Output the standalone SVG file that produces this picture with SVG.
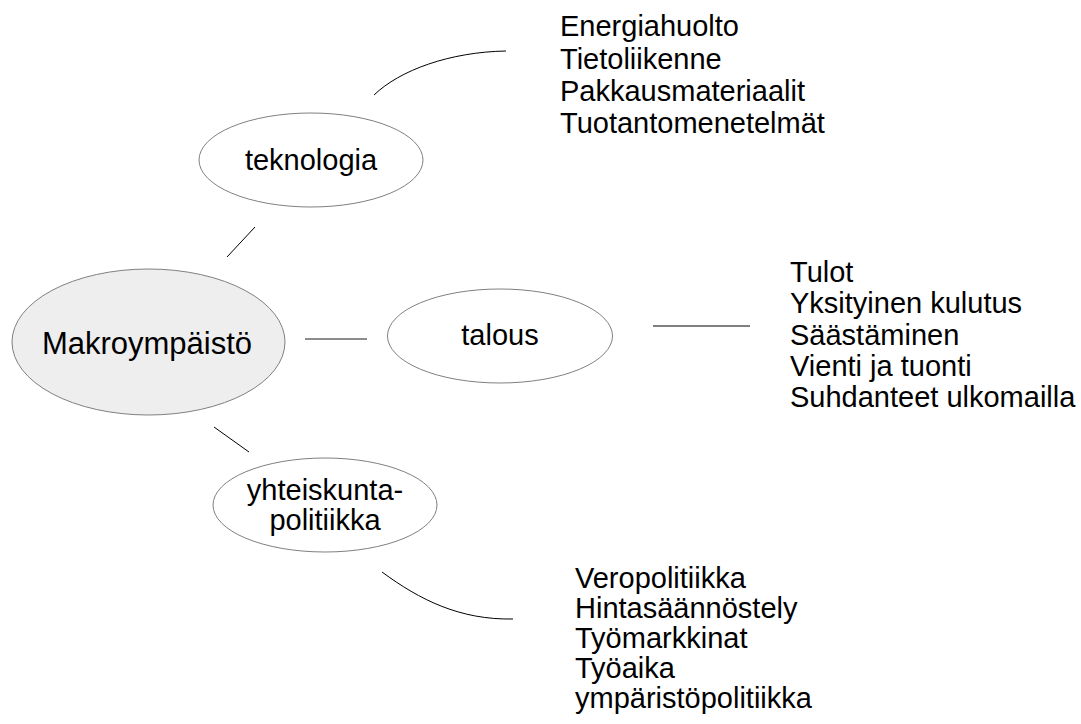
<svg xmlns="http://www.w3.org/2000/svg" width="1081" height="724" viewBox="0 0 1081 724">
<style>
.node{fill:#ffffff;stroke:#808080;stroke-width:1}
.main{fill:#eeeeee;stroke:#808080;stroke-width:1}
text{font-family:"Liberation Sans",Arial,sans-serif;font-size:29px;fill:#000000}
.c{text-anchor:middle}
.conn{fill:none;stroke:#000000;stroke-width:1}
.gray{stroke:#666666;stroke-width:1.5}
</style>
<rect width="1081" height="724" fill="#ffffff"/>
<g id="connectors">
<path class="conn" d="M374,95 C400,70 450,52 506,51"/>
<line class="conn" x1="255" y1="227" x2="227" y2="257"/>
<line class="conn gray" x1="305" y1="339" x2="367" y2="339"/>
<line class="conn" x1="653" y1="326" x2="750" y2="326"/>
<line class="conn" x1="214" y1="427" x2="249" y2="452"/>
<path class="conn" d="M382,572 C420,600 460,620 513,619"/>
</g>
<g id="makro">
<ellipse class="main" cx="148.5" cy="342" rx="136.5" ry="73"/>
<text class="c" x="147" y="354" style="font-size:31px">Makroympäistö</text>
</g>
<g id="teknologia">
<ellipse class="node" cx="311" cy="160" rx="112" ry="47"/>
<text class="c" x="311" y="170">teknologia</text>
</g>
<g id="talous">
<ellipse class="node" cx="500" cy="336" rx="112.5" ry="47"/>
<text class="c" x="500" y="345">talous</text>
</g>
<g id="yhteiskuntapolitiikka">
<ellipse class="node" cx="325" cy="505" rx="112" ry="47"/>
<text class="c" x="325" y="500">yhteiskunta-</text>
<text class="c" x="325" y="530">politiikka</text>
</g>
<g id="teknologia-list">
<text x="560" y="36">Energiahuolto</text>
<text x="560" y="68.5">Tietoliikenne</text>
<text x="560" y="101">Pakkausmateriaalit</text>
<text x="560" y="133">Tuotantomenetelmät</text>
</g>
<g id="talous-list">
<text x="790" y="282">Tulot</text>
<text x="790" y="313">Yksityinen kulutus</text>
<text x="790" y="344.5">Säästäminen</text>
<text x="790" y="376">Vienti ja tuonti</text>
<text x="790" y="407">Suhdanteet ulkomailla</text>
</g>
<g id="politiikka-list">
<text x="575" y="588">Veropolitiikka</text>
<text x="575" y="618">Hintasäännöstely</text>
<text x="575" y="648">Työmarkkinat</text>
<text x="575" y="678">Työaika</text>
<text x="575" y="708">ympäristöpolitiikka</text>
</g>
</svg>
